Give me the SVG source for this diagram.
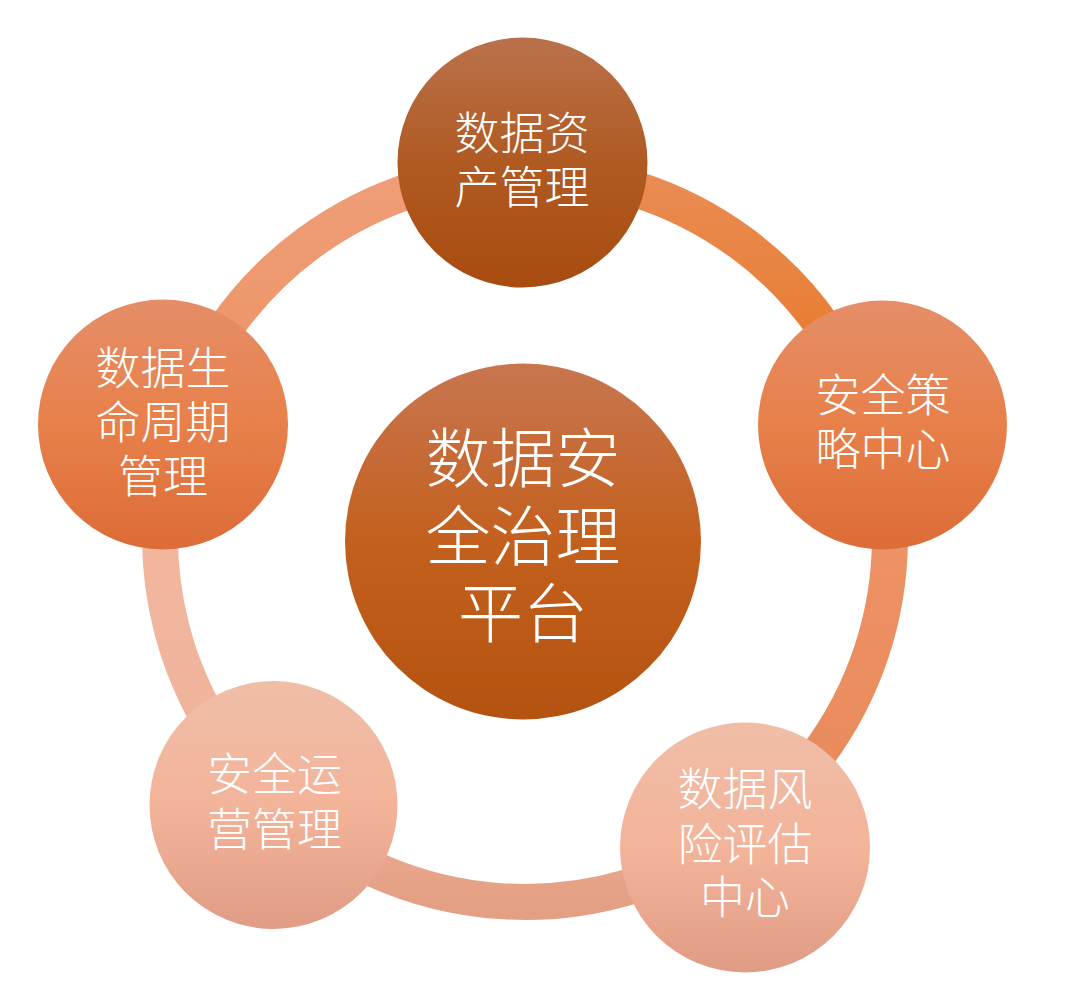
<svg xmlns="http://www.w3.org/2000/svg" width="1080" height="1003" viewBox="0 0 1080 1003">
<defs>
<linearGradient id="gArc1" x1="0" y1="0" x2="0" y2="1"><stop offset="0" stop-color="#E98C55"/><stop offset="1" stop-color="#E8751F"/></linearGradient>
<linearGradient id="gArc2" x1="0" y1="0" x2="0" y2="1"><stop offset="0" stop-color="#EF966A"/><stop offset="1" stop-color="#E8895A"/></linearGradient>
<linearGradient id="gArc3" x1="0" y1="0" x2="0" y2="1"><stop offset="0" stop-color="#EEAE94"/><stop offset="1" stop-color="#E4A085"/></linearGradient>
<linearGradient id="gArc4" x1="0" y1="0" x2="0" y2="1"><stop offset="0" stop-color="#F4B8A0"/><stop offset="1" stop-color="#EFB29A"/></linearGradient>
<linearGradient id="gArc5" x1="0" y1="0" x2="0" y2="1"><stop offset="0" stop-color="#EF9E78"/><stop offset="1" stop-color="#EE9264"/></linearGradient>
<linearGradient id="gDark" x1="0" y1="0" x2="0" y2="1"><stop offset="0" stop-color="#BA724C"/><stop offset="0.5" stop-color="#B05A22"/><stop offset="1" stop-color="#A84C10"/></linearGradient>
<linearGradient id="gCenter" x1="0" y1="0" x2="0" y2="1"><stop offset="0" stop-color="#C87650"/><stop offset="0.5" stop-color="#C4601E"/><stop offset="1" stop-color="#B4530F"/></linearGradient>
<linearGradient id="gMid" x1="0" y1="0" x2="0" y2="1"><stop offset="0" stop-color="#E58E68"/><stop offset="0.5" stop-color="#E8804A"/><stop offset="1" stop-color="#DC6C38"/></linearGradient>
<linearGradient id="gLight" x1="0" y1="0" x2="0" y2="1"><stop offset="0" stop-color="#F0BEA8"/><stop offset="0.5" stop-color="#F3B49A"/><stop offset="1" stop-color="#E09C84"/></linearGradient>
</defs>
<style>
.arc{fill:none;stroke-width:36}
.lbl{fill:#FFFFFF;font-family:"Noto Sans CJK SC","Noto Sans CJK TC",sans-serif;font-weight:300;text-anchor:middle}
.s45{font-size:45px}
.s65{font-size:65px}
</style>
<rect width="1080" height="1003" fill="#FFFFFF"/>
<g id="connectors">
<path class="arc" stroke="url(#gArc1)" d="M 525 172 A 365 365 0 0 1 873.3 427.9"/>
<path class="arc" stroke="url(#gArc2)" d="M 873.3 427.9 A 365 365 0 0 1 735.9 834.9"/>
<path class="arc" stroke="url(#gArc3)" d="M 735.9 834.9 A 365 365 0 0 1 275.2 803.1"/>
<path class="arc" stroke="url(#gArc4)" d="M 275.2 803.1 A 365 365 0 0 1 176.5 428.4"/>
<path class="arc" stroke="url(#gArc5)" d="M 176.5 428.4 A 365 365 0 0 1 525 172"/>
</g>
<g id="node-center">
<circle cx="523" cy="541.5" r="178" fill="url(#gCenter)"/>
<text class="lbl s65" x="523" y="482"><tspan x="523">数据安</tspan><tspan x="523" dy="78">全治理</tspan><tspan x="523" dy="77">平台</tspan></text>
</g>
<g id="node-top">
<circle cx="522.5" cy="162.5" r="125" fill="url(#gDark)"/>
<text class="lbl s45" x="522" y="150"><tspan x="522">数据资</tspan><tspan x="522" dy="54">产管理</tspan></text>
</g>
<g id="node-right">
<circle cx="882.5" cy="425" r="124.5" fill="url(#gMid)"/>
<text class="lbl s45" x="883" y="412"><tspan x="883">安全策</tspan><tspan x="883" dy="54">略中心</tspan></text>
</g>
<g id="node-bottom-right">
<circle cx="745" cy="847.5" r="125" fill="url(#gLight)"/>
<text class="lbl s45" x="745" y="806"><tspan x="745">数据风</tspan><tspan x="745" dy="55">险评估</tspan><tspan x="745" dy="53">中心</tspan></text>
</g>
<g id="node-bottom-left">
<circle cx="273.5" cy="805" r="124" fill="url(#gLight)"/>
<text class="lbl s45" x="274.5" y="791"><tspan x="274.5">安全运</tspan><tspan x="274.5" dy="55">营管理</tspan></text>
</g>
<g id="node-left">
<circle cx="163" cy="424.5" r="125" fill="url(#gMid)"/>
<text class="lbl s45" x="163" y="385"><tspan x="163">数据生</tspan><tspan x="163" dy="54">命周期</tspan><tspan x="163" dy="54">管理</tspan></text>
</g>
</svg>
